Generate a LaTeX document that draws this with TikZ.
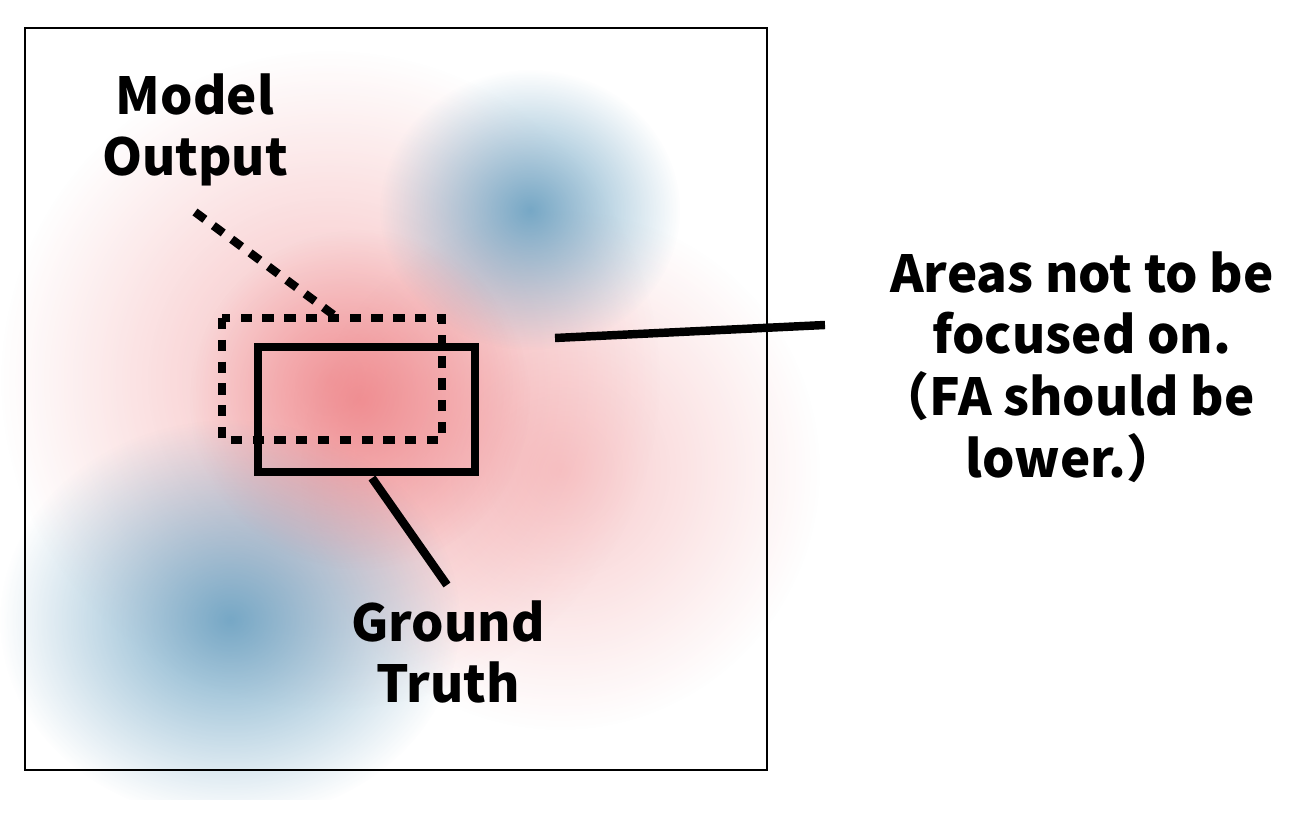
\documentclass[tikz,border=0pt]{standalone}
\usepackage{fontspec}
\newfontfamily\cjk{Noto Sans CJK JP}
\usetikzlibrary{fadings}
\tikzfading[name=fuzzy, inner color=transparent!0, outer color=transparent!100]
\definecolor{blobblue}{RGB}{95,155,190}
\definecolor{blobred}{RGB}{235,105,110}
\tikzset{lbl/.style={font=\cjk\bfseries\fontsize{14.5}{17.5}\selectfont, align=center, inner sep=0pt},
 lead/.style={line width=2.4pt}}
\begin{document}
\begin{tikzpicture}[x=0.01cm,y=-0.01cm]
\useasboundingbox (0,0) rectangle (1308,816);
\fill[white] (0,0) rectangle (1308,816);
\begin{scope}
\clip (0,20) rectangle (830,800);
\fill[blobred, path fading=fuzzy, fill opacity=0.45] (330,380) circle (330);
\fill[blobred, path fading=fuzzy, fill opacity=0.35] (560,470) circle (260);
\fill[blobblue, path fading=fuzzy, fill opacity=0.85] (530,210) ellipse (150 and 140);
\fill[blobblue, path fading=fuzzy, fill opacity=0.85] (230,620) ellipse (230 and 200);
\fill[blobred, path fading=fuzzy, fill opacity=0.55] (360,400) circle (170);
\end{scope}
\draw[line width=0.8pt] (25,28) rectangle (767,770);
\node[lbl] (mo) at (195,130) {Model\\Output};
\node[lbl] (gt) at (448,652) {Ground\\Truth};
\node[lbl] (fa) at (1082,367) {Areas not to be\\focused on.\\\hspace*{-0.6em}（FA should be\\\hspace*{-0.4em}lower.）};
\coordinate (dr1) at (222,318); \coordinate (dr2) at (442,440);
\coordinate (sr1) at (258,347); \coordinate (sr2) at (475,472);
\draw[lead, dash pattern=on 3.2pt off 3pt] (dr1) rectangle (dr2);
\draw[lead] (sr1) rectangle (sr2);
\coordinate (a1) at (195,212); \coordinate (a2) at (335,316);
\draw[lead, dash pattern=on 3.5pt off 3pt] (a1) -- (a2);
\coordinate (b1) at (372,478); \coordinate (b2) at (447,585);
\draw[lead] (b1) -- (b2);
\coordinate (c1) at (555,338); \coordinate (c2) at (825,325);
\draw[lead] (c1) -- (c2);
\end{tikzpicture}
\end{document}
